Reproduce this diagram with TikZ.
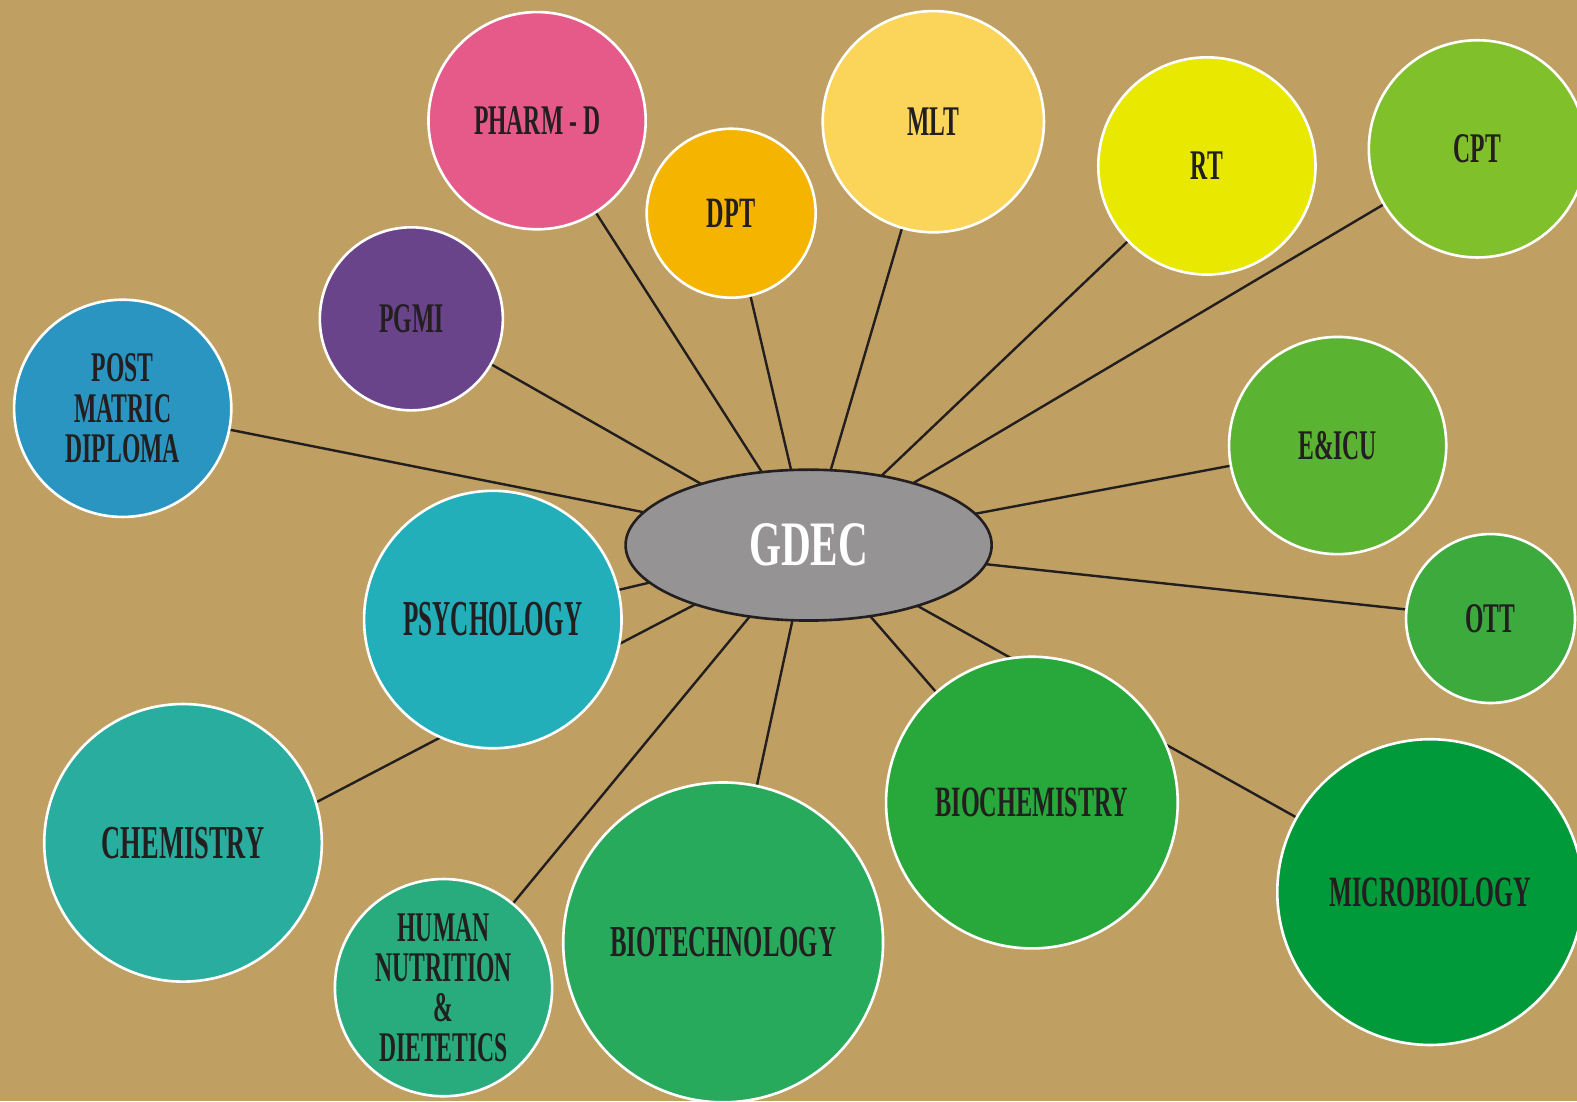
\documentclass[tikz,border=0pt]{standalone}
\usepackage{fontspec}
\newfontfamily\condfont[FakeStretch=0.56]{Liberation Serif Bold}
\newfontfamily\narrowfont[FakeStretch=0.5]{Liberation Serif Bold}
\newfontfamily\hubfont[FakeStretch=0.65]{Liberation Serif Bold}
\usetikzlibrary{shapes.geometric,backgrounds}
\definecolor{bgtan}{HTML}{C0A062}
\definecolor{inkdark}{HTML}{231F20}
\definecolor{pharmpink}{HTML}{E65A8A}
\definecolor{dptorange}{HTML}{F5B400}
\definecolor{mltyellow}{HTML}{FAD55A}
\definecolor{rtyellow}{HTML}{E8E800}
\definecolor{cptgreen}{HTML}{80C02A}
\definecolor{pgmipurple}{HTML}{6A448A}
\definecolor{postblue}{HTML}{2A95C0}
\definecolor{eicugreen}{HTML}{5AB432}
\definecolor{ottgreen}{HTML}{3CAA3C}
\definecolor{psycyan}{HTML}{22AFBA}
\definecolor{chemteal}{HTML}{28AD9E}
\definecolor{humangreen}{HTML}{28AC7E}
\definecolor{biotechgreen}{HTML}{28AA5C}
\definecolor{biochemgreen}{HTML}{28A83A}
\definecolor{microgreen}{HTML}{009A3A}
\definecolor{gdecgrey}{HTML}{959394}
\begin{document}
\begin{tikzpicture}[x=1pt,y=-1pt,
	bubble/.style={circle,draw=white,line width=2.6pt,inner sep=0pt,align=center,text=inkdark,font=\condfont\fontsize{42}{40}\selectfont},
	spoke/.style={draw=inkdark,line width=2.4pt}]
		\useasboundingbox (0,0) rectangle (1568,1095);
		% hub
		\node[ellipse,draw=inkdark,line width=2.6pt,fill=gdecgrey,minimum width=364pt,minimum height=150pt,inner sep=0pt,text=white,font=\hubfont\fontsize{63}{63}\selectfont] (gdec) at (804,542) {GDEC};
		% top row
		\node[bubble,fill=pharmpink,minimum size=216pt] (pharm) at (534,120) {PHARM - D};
		\node[bubble,fill=dptorange,minimum size=168pt,font=\condfont\fontsize{43}{40}\selectfont] (dpt) at (727,212) {DPT};
		\node[bubble,fill=mltyellow,minimum size=220pt] (mlt) at (928,121) {MLT};
		\node[bubble,fill=rtyellow,minimum size=216pt] (rt) at (1200,165) {RT};
		\node[bubble,fill=cptgreen,minimum size=216pt] (cpt) at (1469,148) {CPT};
		\node[bubble,fill=pgmipurple,minimum size=182pt] (pgmi) at (409,317) {PGMI};
		% sides
		\node[bubble,fill=postblue,minimum size=216pt] (post) at (122,406) {POST\\MATRIC\\DIPLOMA};
		\node[bubble,fill=eicugreen,minimum size=216pt] (eicu) at (1330,443) {E\&ICU};
		\node[bubble,fill=ottgreen,minimum size=168pt] (ott) at (1482,615) {OTT};
		\node[bubble,fill=psycyan,minimum size=256pt,font=\narrowfont\fontsize{50}{50}\selectfont] (psy) at (490,616) {PSYCHOLOGY};
		% bottom row
		\node[bubble,fill=chemteal,minimum size=276pt,font=\condfont\fontsize{47}{47}\selectfont] (chem) at (182,838) {CHEMISTRY};
		\node[bubble,fill=humangreen,minimum size=216pt] (human) at (441,982) {HUMAN\\NUTRITION\\\&\\DIETETICS};
		\node[bubble,fill=biotechgreen,minimum size=318pt,font=\condfont\fontsize{44}{44}\selectfont] (biotech) at (719,937) {BIOTECHNOLOGY};
		\node[bubble,fill=biochemgreen,minimum size=290pt,font=\condfont\fontsize{43}{43}\selectfont] (biochem) at (1026,798) {BIOCHEMISTRY};
		\node[bubble,fill=microgreen,minimum size=304pt,font=\condfont\fontsize{43}{43}\selectfont] (micro) at (1422,887) {MICROBIOLOGY};
		% spokes, behind everything
		\begin{scope}[on background layer]
			\fill[bgtan] (0,0) rectangle (1568,1095);
			\foreach \leaf in {pharm,dpt,mlt,rt,cpt,pgmi,post,eicu,ott,psy,human,biotech,biochem,micro}
				\draw[spoke] (gdec.center) -- (\leaf.center);
			\draw[spoke] (gdec.center) -- (chem.17);
		\end{scope}
	\end{tikzpicture}
\end{document}
